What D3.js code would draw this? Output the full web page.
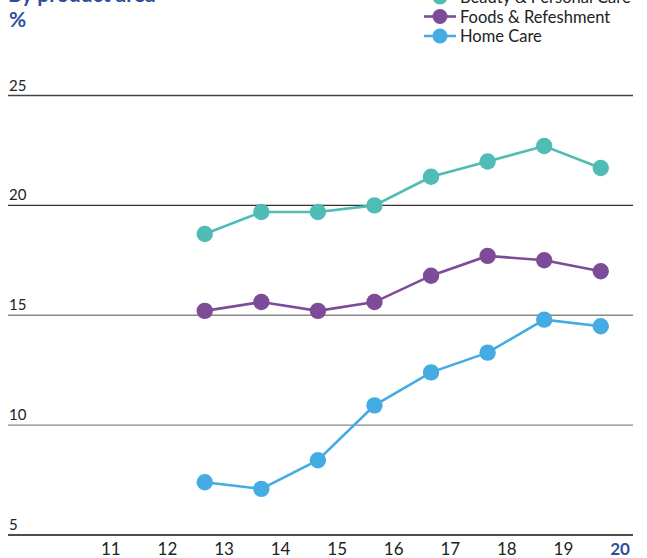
<!DOCTYPE html>
<html><head><meta charset="utf-8">
<script src="https://cdn.jsdelivr.net/npm/d3@7"></script>
<style>body{margin:0;background:#fff;}svg{display:block;font-family:Lato,"Noto Sans",sans-serif;}</style>
</head><body><svg id="c" width="647" height="558"></svg>
<script>
const years = [13,14,15,16,17,18,19,20];
const tickYears = [11,12,13,14,15,16,17,18,19,20];
const yTicks = [5,10,15,20,25];
const seriesNames = ["Beauty & Personal Care","Foods & Refeshment","Home Care"];
const seriesColors = ["#4fbcb5","#7d4c98","#44ace2"];
const beauty = [18.7,19.7,19.7,20.0,21.3,22.0,22.7,21.7];
const foods  = [15.2,15.6,15.2,15.6,16.8,17.7,17.5,17.0];
const home   = [7.4,7.1,8.4,10.9,12.4,13.3,14.8,14.5];
const seriesValues = [beauty, foods, home];

const svg = d3.select("#c");
const x = d3.scaleLinear().domain([13,20]).range([224,620]);
const y = d3.scaleLinear().domain([5,25]).range([535,95.5]);
const pointOffset = -0.34;

const gridColors = {5:"#111",10:"#888",15:"#888",20:"#333",25:"#444"};
yTicks.forEach(t=>{
  svg.append("line").attr("x1",8).attr("x2",633).attr("y1",y(t)).attr("y2",y(t))
    .attr("stroke",gridColors[t]).attr("stroke-width",1.3);
  svg.append("text").attr("x",9).attr("y",y(t)-5).text(t)
    .attr("font-size",15).attr("fill","#222");
});

tickYears.forEach(t=>{
  svg.append("text").attr("x",x(t)).attr("y",555).attr("text-anchor","middle")
    .text(t).attr("font-size",17)
    .attr("font-weight",t===20?"bold":"normal")
    .attr("fill",t===20?"#2d4fa0":"#222");
});

const line = d3.line().x((d,i)=>x(years[i]+pointOffset)).y(d=>y(d));
seriesValues.forEach((vals,si)=>{
  svg.append("path").attr("d",line(vals)).attr("fill","none")
    .attr("stroke",seriesColors[si]).attr("stroke-width",2.6);
  svg.selectAll(null).data(vals).enter().append("circle")
    .attr("cx",(d,i)=>x(years[i]+pointOffset)).attr("cy",d=>y(d)).attr("r",8.2)
    .attr("fill",seriesColors[si]);
});

svg.append("text").attr("x",8).attr("y",2).text("By product area")
  .attr("font-size",21).attr("font-weight","bold").attr("fill","#2d4fa0");
svg.append("text").attr("x",9).attr("y",27).text("%")
  .attr("font-size",21).attr("font-weight","bold").attr("fill","#2d4fa0");

seriesNames.forEach((n,i)=>{
  const cy = -3 + i*19.5;
  svg.append("line").attr("x1",424).attr("x2",456).attr("y1",cy).attr("y2",cy)
    .attr("stroke",seriesColors[i]).attr("stroke-width",2.6);
  svg.append("circle").attr("cx",440).attr("cy",cy).attr("r",7.5).attr("fill",seriesColors[i]);
  svg.append("text").attr("x",460).attr("y",cy+6).text(n)
    .attr("font-size",16.5).attr("fill","#222");
});
</script></body></html>
